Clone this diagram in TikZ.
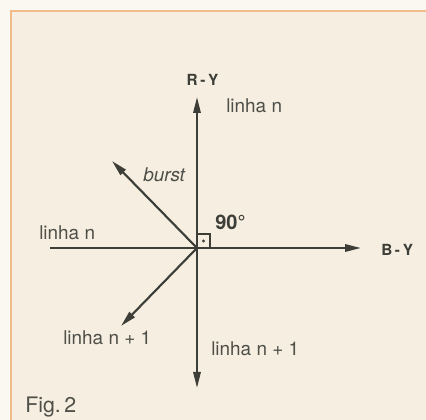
\documentclass[tikz,border=0pt]{standalone}
\usepackage{fontspec}
\setmainfont{TeX Gyre Heros}
\usetikzlibrary{arrows.meta}
\definecolor{ink}{HTML}{3C3E37}
\definecolor{txt}{HTML}{4E4F48}
\definecolor{paper}{HTML}{F6EFE1}
\definecolor{margin}{HTML}{FBF8F1}
\definecolor{rim}{HTML}{F1BC8C}

\begin{document}
\begin{tikzpicture}[x=0.75pt, y=-0.75pt,
    axis/.style={ink, line width=1.6pt},
    vec/.style={axis, -{Triangle[length=12pt,width=5.5pt]}},
    lbl/.style={anchor=base west, inner sep=0pt, text=txt,
      font=\fontsize{14.2}{16}\selectfont},
    tag/.style={anchor=base, inner sep=0pt, text=ink,
      font=\fontsize{11.5}{13}\selectfont\bfseries}]

  % --- carta ---
  \useasboundingbox (0,0) rectangle (426,420);
  \fill[margin] (0,0) rectangle (426,420);
  \fill[paper] (11,11) rectangle (426,420);
  \draw[rim, line width=1.2pt] (426,11) -- (11,11) -- (11,420);

  % --- punti ---
  \coordinate (O) at (197,248);
  \coordinate (ry) at (197,97);
  \coordinate (down) at (197,388);
  \coordinate (west) at (50,248);
  \coordinate (by) at (361,248);
  \coordinate (burst) at (112,161);
  \coordinate (next) at (121,326);

  % --- assi ---
  \draw[vec] (O) -- (ry);
  \draw[vec] (O) -- (down);
  \draw[vec] (west) -- (by);

  % --- burst e linha n+1 ---
  \draw[vec] (O) -- (burst);
  \draw[vec] (O) -- (next);

  % --- angolo retto ---
  \draw[ink, line width=1.2pt] (O) rectangle (210,234);
  \fill[ink] (203.5,241) circle (1.3pt);

  % --- etichette ---
  \node[tag] (tRY) at (202.5,85.5) {R\kern2pt-\kern2ptY};
  \node[tag, anchor=base west] (tBY) at (381,255.5) {B\kern2pt-\kern2ptY};
  \node[tag, anchor=base west, font=\fontsize{15}{17}\selectfont\bfseries]
    (t90) at (215,230) {90°};
  \node[lbl] (nTop) at (226,113) {linha n};
  \node[lbl] (nLeft) at (39,240) {linha n};
  \node[lbl, font=\fontsize{14.2}{16}\selectfont\itshape] (tBurst) at (143,182) {burst};
  \node[lbl] (n1Left) at (63,345) {linha n + 1};
  \node[lbl] (n1Right) at (211,356) {linha n + 1};
  \node[lbl, font=\fontsize{16}{18}\selectfont] (fig) at (25,413) {Fig.\,2};

\end{tikzpicture}
\end{document}
